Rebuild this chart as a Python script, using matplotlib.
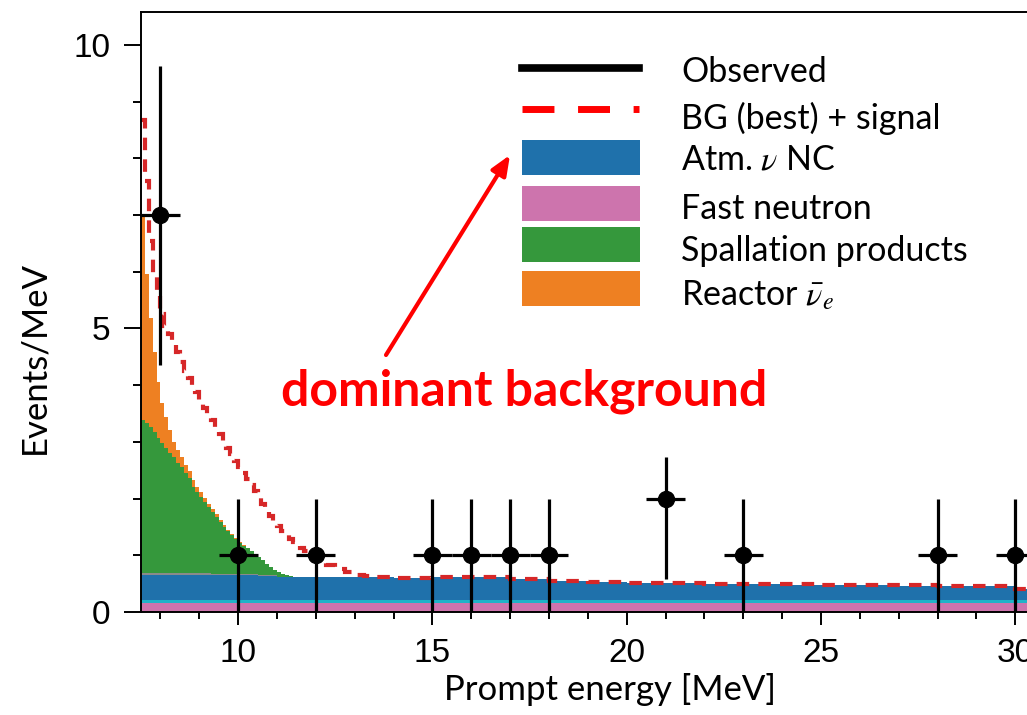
import numpy as np
import matplotlib
matplotlib.use("Agg")
import matplotlib.pyplot as plt
from matplotlib.lines import Line2D
from matplotlib.patches import Rectangle

plt.rcParams['mathtext.fontset'] = 'stix'

# bin layout: 0.1 MeV up to 12, 0.25 MeV up to 14, 1 MeV above
edges = np.concatenate([np.arange(7.5, 12.0, 0.1), np.arange(12.0, 14.0, 0.25), np.arange(14.0, 31.01, 1.0)])
n_bins = len(edges) - 1

# stacked background components (Events/MeV)
fast_neutron = np.full(n_bins, 0.165)
other_low = np.full(n_bins, 0.055)
atm_nc = np.array(
    [0.435] * 20 + [0.425] * 10 + [0.415] * 5 + [0.405] * 5 + [0.395] * 5   # 7.5 - 12.0
    + [0.39] * 8                                                            # 12 - 14
    + [0.385, 0.395, 0.395, 0.36, 0.33, 0.31, 0.295, 0.285, 0.275,
       0.265, 0.26, 0.255, 0.25, 0.245, 0.24, 0.235, 0.18])                 # 14 - 31
other_gray = np.array([0.03] * 18 + [0.02] * 12 + [0.01] * 5 + [0.0] * (n_bins - 35))
spallation = np.array(
    [2.705, 2.645, 2.575, 2.495, 2.375, 2.295, 2.205, 2.125, 2.045, 1.945,
     1.865, 1.765, 1.675, 1.525, 1.435, 1.345, 1.255, 1.165, 1.085, 0.995,
     0.915, 0.835, 0.755, 0.685, 0.615, 0.545, 0.505, 0.455, 0.405, 0.355,
     0.325, 0.265, 0.205, 0.145, 0.095, 0.075, 0.045, 0.025, 0.01, 0.0]
    + [0.0] * (n_bins - 40))
reactor = np.array(
    [3.61, 2.63, 1.92, 1.41, 1.00, 0.70, 0.54, 0.40, 0.27, 0.23,
     0.18, 0.14, 0.12, 0.11, 0.09, 0.09, 0.07, 0.06, 0.05, 0.05,
     0.04, 0.04, 0.03, 0.03, 0.02, 0.02, 0.015, 0.01, 0.01, 0.01]
    + [0.0] * (n_bins - 30))

# BG (best) + signal
bg_signal = np.array(
    [8.68, 7.60, 6.55, 5.90, 5.60, 5.25, 5.05, 4.90, 4.72, 4.58,
     4.40, 4.25, 4.12, 3.98, 3.88, 3.74, 3.60, 3.49, 3.38, 3.27,
     3.13, 3.01, 2.90, 2.78, 2.66, 2.56, 2.45, 2.35, 2.24, 2.13,
     2.01, 1.90, 1.79, 1.70, 1.60, 1.51, 1.42, 1.35, 1.29, 1.23,
     1.18, 1.13, 1.08, 1.03, 0.98,
     0.92, 0.83, 0.76, 0.70, 0.66, 0.635, 0.62, 0.61,
     0.605, 0.615, 0.615, 0.585, 0.555, 0.535, 0.52, 0.51, 0.50,
     0.49, 0.485, 0.48, 0.475, 0.47, 0.465, 0.46, 0.41])

# observed data
obs_e = np.array([8, 10, 12, 15, 16, 17, 18, 21, 23, 28, 30])
obs_n = np.array([7, 1, 1, 1, 1, 1, 1, 2, 1, 1, 1])
obs_lo = np.array([2.64, 1, 1, 1, 1, 1, 1, 1.41, 1, 1, 1])
obs_hi = np.array([2.63, 1, 1, 1, 1, 1, 1, 0.73, 1, 1, 1])

W, H = 1027, 715
fig = plt.figure(figsize=(W / 100, H / 100), dpi=100)
ax = fig.add_axes([141 / W, 103 / H, 23.5 * 38.86 / W, 600 / H])

layers = [(fast_neutron, '#cd74ad'), (other_low, '#1fb3c8'), (atm_nc, '#1f71ab'),
          (other_gray, '#8a8a8a'), (spallation, '#35983c'), (reactor, '#ee8022')]
bottom = np.zeros(n_bins)
for vals, col in layers:
    ax.stairs(bottom + vals, edges, baseline=bottom, fill=True, color=col, lw=0)
    bottom = bottom + vals

ax.stairs(bg_signal, edges, baseline=None, color='#d62728', lw=3.0,
          linestyle=(0, (3.0, 2.2)))

ax.errorbar(obs_e, obs_n, xerr=0.5, yerr=[obs_lo, obs_hi], fmt='o', color='black',
            ms=11.5, elinewidth=2.3, capsize=0, clip_on=True)

ax.set_xlim(7.5, 31.0)
ax.set_ylim(0, 10.58)
ax.set_xticks([10, 15, 20, 25, 30])
ax.set_xticks(np.arange(8, 31, 1), minor=True)
ax.set_yticks([0, 5, 10])
ax.set_yticks(np.arange(0, 11, 1), minor=True)
ax.spines['right'].set_visible(False)
for s in ['left', 'bottom', 'top']:
    ax.spines[s].set_linewidth(1.4)
ax.tick_params(axis='y', which='major', direction='out', length=12, width=1.4, pad=10)
ax.tick_params(axis='y', which='minor', direction='out', length=6, width=1.4)
ax.tick_params(axis='x', which='major', direction='out', length=9, width=1.4, pad=10)
ax.tick_params(axis='x', which='minor', direction='out', length=5, width=1.4)
for lab in ax.get_xticklabels() + ax.get_yticklabels():
    lab.set_fontfamily('Liberation Sans')
    lab.set_fontsize(24)

fig.text(610 / W, 1 - 690 / H, 'Prompt energy [MeV]', family='Lato', fontsize=25,
         ha='center', va='center')
fig.text(34 / W, 1 - 357 / H, 'Events/MeV', family='Lato', fontsize=25,
         ha='center', va='center', rotation=90)

# legend drawn by hand
def fx(x):
    return x / W

def fy(y):
    return 1 - y / H

fig.add_artist(Line2D([fx(522), fx(639)], [fy(68), fy(68)], color='black', lw=5.5,
                      transform=fig.transFigure))
fig.add_artist(Line2D([fx(522), fx(639)], [fy(109), fy(109)], color='#ff0000', lw=5,
                      linestyle=(0, (4.6, 3.4)), transform=fig.transFigure))
box_cols = ['#1f71ab', '#cd74ad', '#35983c', '#ee8022']
box_tops = [140, 186, 227, 271]
for col, top in zip(box_cols, box_tops):
    fig.add_artist(Rectangle((fx(522), fy(top + 35)), fx(640) - fx(522), 35 / H,
                             color=col, transform=fig.transFigure, lw=0))
labels = ['Observed', 'BG (best) + signal', r'Atm. $\nu$ NC', 'Fast neutron',
          'Spallation products', r'Reactor $\bar{\nu}_e$']
label_y = [72, 118, 160, 209, 251, 295]
for lab, y in zip(labels, label_y):
    fig.text(fx(681), fy(y), lab, family='Lato', fontsize=24.5, ha='left', va='center')

fig.text(fx(524), fy(391), 'dominant background', family='Lato', weight='bold',
         fontsize=36, color='#ff0000', ha='center', va='center')
ax.annotate('', xy=(510, H - 155), xycoords='figure pixels',
            xytext=(386, H - 355), textcoords='figure pixels',
            arrowprops=dict(arrowstyle='-|>,head_length=1.2,head_width=0.5',
                            color='#ff0000', lw=3, shrinkA=0, shrinkB=0))

fig.savefig('out.png', dpi=100)
